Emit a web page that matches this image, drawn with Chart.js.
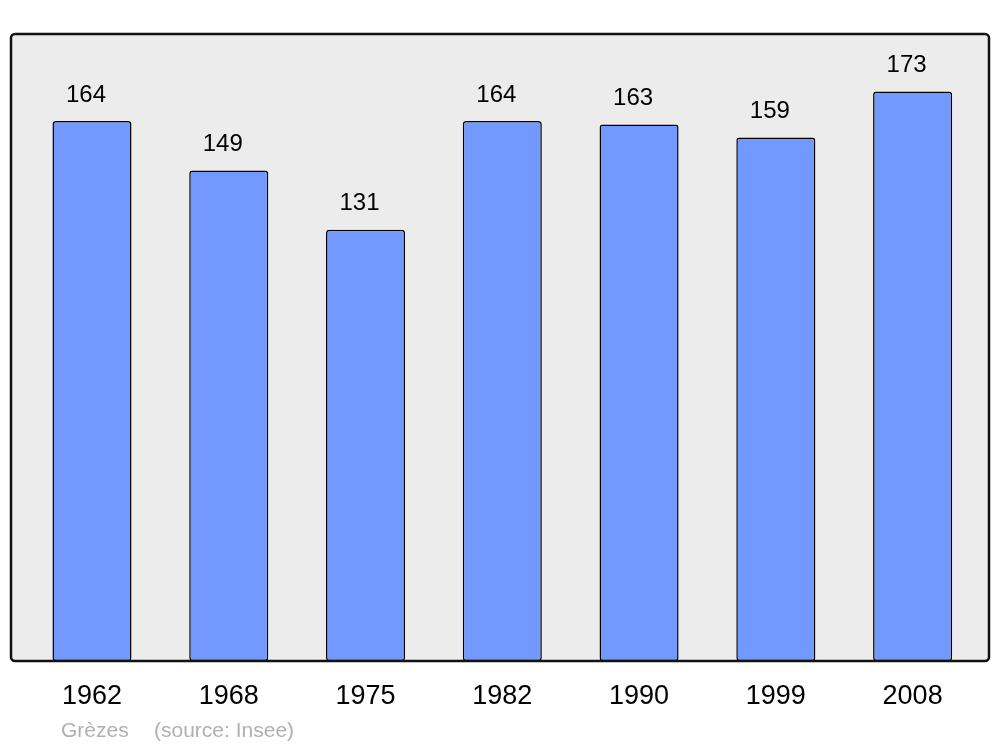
<!DOCTYPE html>
<html>
<head>
<meta charset="utf-8">
<script src="https://cdn.jsdelivr.net/npm/chart.js@4"></script>
<style>
  html, body { margin: 0; padding: 0; background: #fff; }
  canvas { display: block; }
</style>
</head>
<body>
<canvas id="myChart" width="1000" height="747"></canvas>
<script>
// census years and population
const years = ["1962", "1968", "1975", "1982", "1990", "1999", "2008"];
const population = [164, 149, 131, 164, 163, 159, 173];
const yMax = 190;
const commune = "Grèzes";
const source = "(source: Insee)";

// gray panel behind bars, border drawn on top after bars
const panelPlugin = {
  id: 'panel',
  beforeDatasetsDraw(chart) {
    const a = chart.chartArea;
    const ctx = chart.ctx;
    ctx.save();
    ctx.beginPath();
    ctx.roundRect(a.left - 12.6, 34, a.right - a.left + 20.6, a.bottom - 34, 4);
    ctx.fillStyle = '#ececec';
    ctx.fill();
    ctx.restore();
  },
  afterDatasetsDraw(chart) {
    const a = chart.chartArea;
    const ctx = chart.ctx;
    ctx.save();
    ctx.beginPath();
    ctx.roundRect(a.left - 12.6, 34, a.right - a.left + 20.6, a.bottom - 34, 4);
    ctx.lineWidth = 2.5;
    ctx.strokeStyle = '#111';
    ctx.stroke();

    // value labels above bars (sit a little left of bar centre)
    const meta = chart.getDatasetMeta(0);
    ctx.font = '24px "Liberation Sans", Arial, sans-serif';
    ctx.fillStyle = '#000';
    ctx.textAlign = 'center';
    ctx.textBaseline = 'middle';
    meta.data.forEach((bar, i) => {
      ctx.fillText(String(population[i]), bar.x - 6, bar.y - 26);
    });

    // caption
    ctx.font = '21px "Liberation Sans", Arial, sans-serif';
    ctx.fillStyle = '#b0b0b0';
    ctx.textAlign = 'left';
    ctx.textBaseline = 'middle';
    ctx.fillText(commune, 61, 731);
    ctx.fillText(source, 154, 731);
    ctx.restore();
  }
};

new Chart(document.getElementById('myChart'), {
  type: 'bar',
  data: {
    labels: years,
    datasets: [{
      data: population,
      backgroundColor: '#7399ff',
      borderColor: '#000',
      borderWidth: 1.5,
      borderRadius: 3,
      borderSkipped: false,
      barPercentage: 0.578,
      categoryPercentage: 1
    }]
  },
  plugins: [panelPlugin],
  options: {
    responsive: false,
    animation: false,
    layout: {
      padding: { left: 23.6, right: 19, top: 35.5, bottom: 23.6 }
    },
    scales: {
      x: {
        grid: { display: false },
        border: { display: false },
        ticks: {
          color: '#000',
          padding: 11,
          font: { family: '"Liberation Sans", Arial, sans-serif', size: 27 }
        }
      },
      y: {
        display: false,
        min: 0,
        max: yMax
      }
    },
    plugins: {
      legend: { display: false },
      tooltip: { enabled: false }
    }
  }
});
</script>
</body>
</html>
